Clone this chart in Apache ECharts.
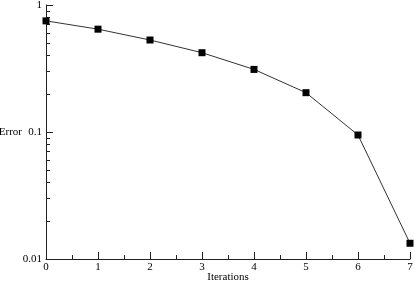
<!DOCTYPE html>
<html><head><meta charset="utf-8">
<script src="https://cdn.jsdelivr.net/npm/echarts@6/dist/echarts.min.js"></script>
<style>html,body{margin:0;padding:0;background:#fff}#c{width:415px;height:282px}</style>
</head><body><div id="c"></div>
<script>
const iterations = [0, 1, 2, 3, 4, 5, 6, 7];
const errors = [0.75, 0.645, 0.53, 0.421, 0.311, 0.204, 0.0947, 0.0133];
const yMajorTicks = [0.01, 0.1, 1];
const yMinorTicks = [0.02,0.03,0.04,0.05,0.06,0.07,0.08,0.09,0.2,0.3,0.4,0.5,0.6,0.7,0.8,0.9];

const font = {fontFamily: 'Liberation Serif', fontSize: 11, color: '#000'};
const chart = echarts.init(document.getElementById('c'), null, {renderer: 'canvas'});
chart.setOption({
  backgroundColor: '#fff',
  animation: false,
  grid: {left: 46, right: 5, top: 5, bottom: 23, containLabel: false, outerBoundsMode: 'none'},
  xAxis: {
    type: 'value', min: 0, max: 7, interval: 1,
    name: 'Iterations', nameLocation: 'middle', nameGap: 13, nameMoveOverlap: false,
    nameTextStyle: font,
    axisLine: {lineStyle: {color: '#222', width: 1}},
    axisTick: {inside: true, length: 7, lineStyle: {color: '#222'}},
    minorTick: {show: true, splitNumber: 2, length: 4, lineStyle: {color: '#222'}},
    axisLabel: Object.assign({margin: 3}, font),
    splitLine: {show: false}
  },
  yAxis: [{
    type: 'log', logBase: 10, min: 0.01, max: 1,
    name: 'Error', nameLocation: 'middle', nameRotate: 0, nameGap: 24, nameMoveOverlap: false,
    nameTextStyle: font,
    axisLine: {show: true, lineStyle: {color: '#222', width: 1}},
    axisTick: {inside: true, length: 7, customValues: yMajorTicks, lineStyle: {color: '#222'}},
    axisLabel: Object.assign({margin: 4, customValues: yMajorTicks, formatter: v => String(v)}, font),
    splitLine: {show: false}
  }, {
    type: 'log', logBase: 10, min: 0.01, max: 1, position: 'left',
    axisLine: {show: false},
    axisTick: {show: true, inside: true, length: 4, customValues: yMinorTicks, lineStyle: {color: '#222'}},
    axisLabel: {show: false},
    splitLine: {show: false}
  }],
  series: [{
    type: 'line',
    data: iterations.map((x, i) => [x, errors[i]]),
    yAxisIndex: 0,
    symbol: 'rect', symbolSize: 7,
    itemStyle: {color: '#000'},
    lineStyle: {color: '#333', width: 1}
  }]
});
</script></body></html>
